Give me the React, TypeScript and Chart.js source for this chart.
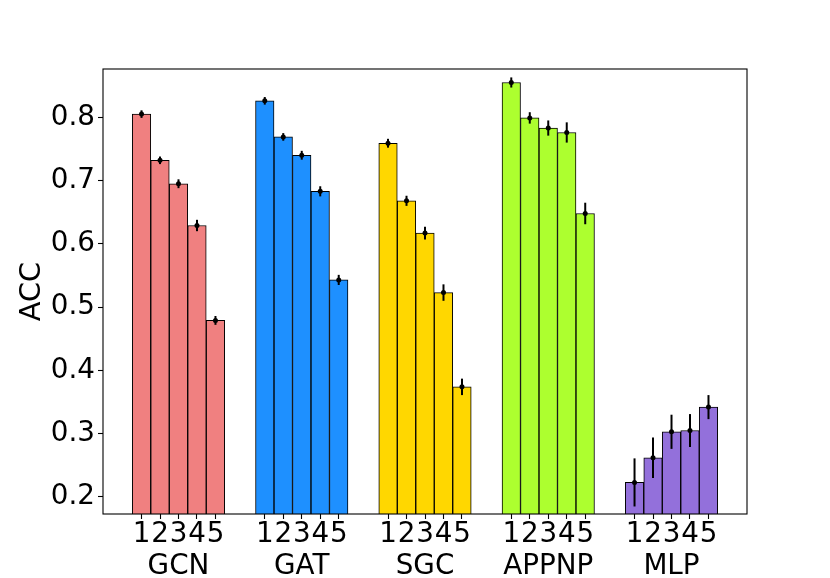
import { useEffect, useRef } from "react";
import { Chart, registerables } from "chart.js";

Chart.register(...registerables);

const groups = ["GCN", "GAT", "SGC", "APPNP", "MLP"];
const levels = ["1", "2", "3", "4", "5"];

const gcnAcc = [0.805, 0.732, 0.695, 0.629, 0.479];
const gcnErr = [0.006, 0.006, 0.007, 0.009, 0.007];
const gatAcc = [0.826, 0.769, 0.74, 0.683, 0.543];
const gatErr = [0.006, 0.006, 0.007, 0.008, 0.008];
const sgcAcc = [0.759, 0.668, 0.617, 0.523, 0.374];
const sgcErr = [0.007, 0.008, 0.01, 0.013, 0.013];
const appnpAcc = [0.855, 0.799, 0.783, 0.776, 0.648];
const appnpErr = [0.008, 0.009, 0.012, 0.016, 0.017];
const mlpAcc = [0.223, 0.262, 0.303, 0.305, 0.342];
const mlpErr = [0.038, 0.032, 0.027, 0.026, 0.019];

const groupColors = ["#F08080", "#1E90FF", "#FFD700", "#ADFF2F", "#9370DB"];
const yTicks = [0.2, 0.3, 0.4, 0.5, 0.6, 0.7, 0.8];
const yMin = 0.1731;
const yMax = 0.8763;
const barStep = 0.15;

const accByGroup = [gcnAcc, gatAcc, sgcAcc, appnpAcc, mlpAcc];
const errByGroup = [gcnErr, gatErr, sgcErr, appnpErr, mlpErr];

const FONT = "'DejaVu Sans', sans-serif";

export default function App() {
  const canvasRef = useRef<HTMLCanvasElement | null>(null);

  useEffect(() => {
    const canvas = canvasRef.current;
    if (!canvas) return;

    const points: { x: number; y: number }[] = [];
    const errs: number[] = [];
    const colors: string[] = [];
    const tickLabels: (string | string[])[] = [];
    groups.forEach((g, gi) => {
      levels.forEach((lv, li) => {
        points.push({ x: gi + (li - 2) * barStep, y: accByGroup[gi][li] });
        errs.push(errByGroup[gi][li]);
        colors.push(groupColors[gi]);
        tickLabels.push(li === 2 ? [lv, g] : [lv, ""]);
      });
    });

    const errorBarPlugin = {
      id: "errorBars",
      afterDatasetsDraw(chart: any) {
        const ctx = chart.ctx;
        const meta = chart.getDatasetMeta(0);
        const ys = chart.scales.y;
        const area = chart.chartArea;
        ctx.save();
        ctx.beginPath();
        ctx.rect(area.left, area.top, area.right - area.left, area.bottom - area.top);
        ctx.clip();
        ctx.strokeStyle = "#000";
        ctx.fillStyle = "#000";
        ctx.lineWidth = 2;
        meta.data.forEach((el: any, i: number) => {
          const v = points[i].y;
          const e = errs[i];
          const x = el.x;
          const y0 = ys.getPixelForValue(v - e);
          const y1 = ys.getPixelForValue(v + e);
          const yc = ys.getPixelForValue(v);
          ctx.beginPath();
          ctx.moveTo(x, y0);
          ctx.lineTo(x, y1);
          ctx.stroke();
          ctx.beginPath();
          ctx.arc(x, yc, 2.5, 0, Math.PI * 2);
          ctx.fill();
        });
        ctx.restore();
      },
      afterDraw(chart: any) {
        const ctx = chart.ctx;
        const a = chart.chartArea;
        ctx.save();
        ctx.strokeStyle = "#000";
        ctx.lineWidth = 1.1;
        ctx.strokeRect(a.left, a.top, a.right - a.left, a.bottom - a.top);
        ctx.restore();
      },
    };

    const chart = new Chart(canvas, {
      type: "bar",
      data: {
        datasets: [
          {
            data: points as any,
            backgroundColor: colors,
            borderColor: "#000",
            borderWidth: 1,
            borderSkipped: false,
            barPercentage: 1,
            categoryPercentage: 1,
          },
        ],
      },
      options: {
        responsive: false,
        animation: false,
        devicePixelRatio: 1,
        layout: { padding: { top: 69, right: 83, left: 0, bottom: 0 } },
        plugins: {
          legend: { display: false },
          tooltip: { enabled: false },
        },
        scales: {
          x: {
            type: "linear",
            min: -0.6125,
            max: 4.6125,
            offset: false,
            afterBuildTicks(scale: any) {
              scale.ticks = points.map((p) => ({ value: p.x }));
            },
            afterFit(scale: any) {
              scale.height = 64;
            },
            grid: {
              display: true,
              drawOnChartArea: false,
              drawTicks: true,
              tickLength: 5,
              tickWidth: 1.1,
              tickColor: "#000",
              offset: false,
            },
            border: { display: false },
            ticks: {
              autoSkip: false,
              maxRotation: 0,
              minRotation: 0,
              padding: 0,
              color: "#000",
              font: { family: FONT, size: 27.8, lineHeight: 1.15 },
              callback: (_v: any, i: number) => tickLabels[i],
            },
          },
          y: {
            type: "linear",
            min: yMin,
            max: yMax,
            afterBuildTicks(scale: any) {
              scale.ticks = yTicks.map((v) => ({ value: v }));
            },
            afterFit(scale: any) {
              scale.width = 103;
            },
            grid: {
              display: true,
              drawOnChartArea: false,
              drawTicks: true,
              tickLength: 5,
              tickWidth: 1.1,
              tickColor: "#000",
            },
            border: { display: false },
            ticks: {
              padding: 3,
              color: "#000",
              font: { family: FONT, size: 27.8 },
              callback: (v: any) => Number(v).toFixed(1),
            },
            title: {
              display: true,
              text: "ACC",
              color: "#000",
              font: { family: FONT, size: 28.8 },
              padding: { top: 15, bottom: 0 },
            },
          },
        },
      },
      plugins: [errorBarPlugin],
    } as any);

    return () => chart.destroy();
  }, []);

  return (
    <div style={{ position: "fixed", left: 0, top: 0, width: 830, height: 578, background: "#fff" }}>
      <canvas ref={canvasRef} width={830} height={578} style={{ display: "block" }} />
    </div>
  );
}
